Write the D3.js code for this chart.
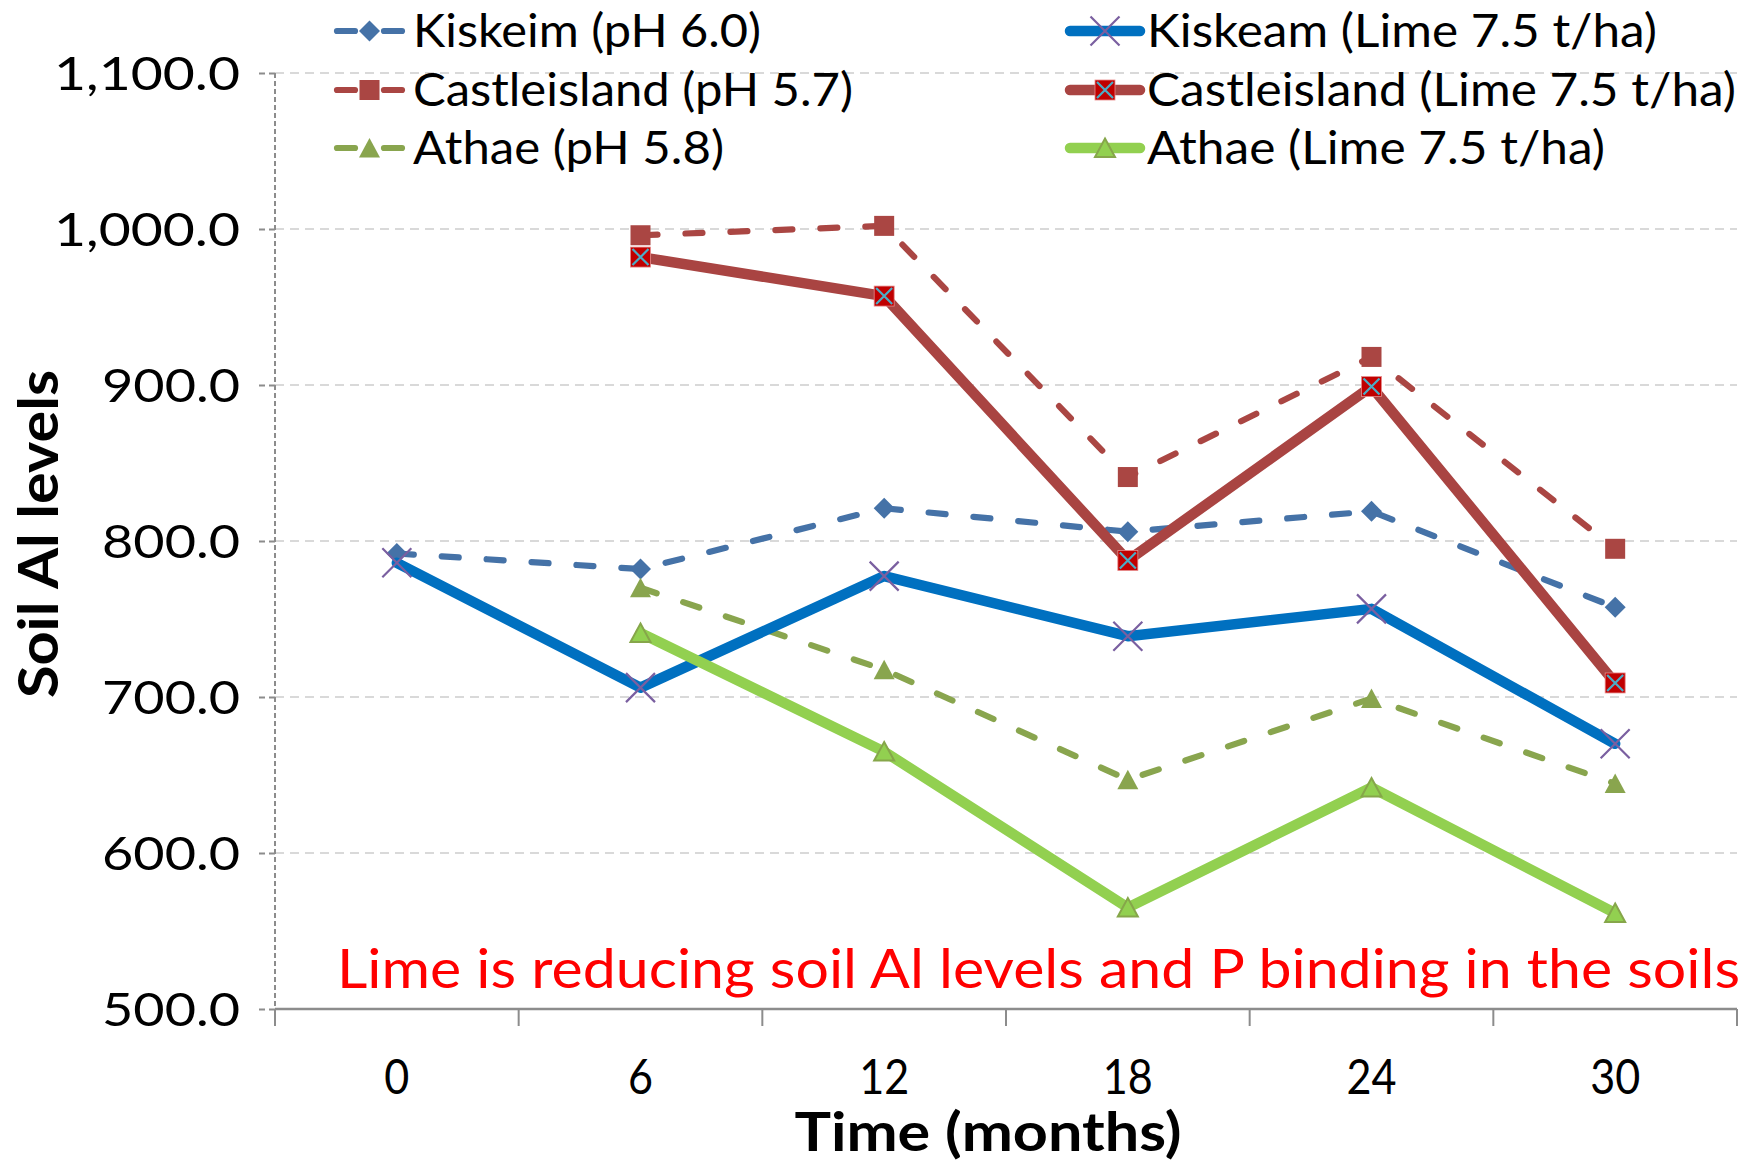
<!DOCTYPE html>
<html>
<head>
<meta charset="utf-8">
<script src="https://cdn.jsdelivr.net/npm/d3@7"></script>
<style>
  body { margin: 0; background: #fff; }
  svg { display: block; }
  text { font-family: Lato, "Open Sans", sans-serif; }
</style>
</head>
<body>
<svg id="chart" width="1760" height="1162"></svg>
<script>
// Sampling times (months) and soil Al readings per site
const months = ["0", "6", "12", "18", "24", "30"];
const yTickValues = [500, 600, 700, 800, 900, 1000, 1100];

const kiskeimPH     = [792, 782, 821, 806, 819, 757.5];
const castlePH      = [null, 996, 1002, 841, 918, 795];
const athaePH       = [null, 770, 717.5, 647, 699, 644.5];
const kiskeamLime   = [786, 706, 777.5, 739, 756.5, 670];
const castleLime    = [null, 982, 957, 787.5, 899, 709];
const athaeLime     = [null, 741, 665, 565, 642, 561.5];

const seriesNames = [
  "Kiskeim (pH 6.0)",
  "Castleisland (pH 5.7)",
  "Athae (pH 5.8)",
  "Kiskeam (Lime 7.5 t/ha)",
  "Castleisland (Lime 7.5 t/ha)",
  "Athae (Lime 7.5 t/ha)"
];

const series = [
  { name: seriesNames[0], values: kiskeimPH,   color: "#4572A7", width: 6.2, dash: "17,28", marker: "diamond",  fill: "#4572A7" },
  { name: seriesNames[1], values: castlePH,    color: "#AA4643", width: 6.2, dash: "17,28", marker: "square",   fill: "#AA4643" },
  { name: seriesNames[2], values: athaePH,     color: "#89A54E", width: 6.2, dash: "17,28", marker: "triangle", fill: "#89A54E" },
  { name: seriesNames[3], values: kiskeamLime, color: "#0070C0", width: 10.5, dash: null,   marker: "cross" },
  { name: seriesNames[4], values: castleLime,  color: "#A94442", width: 10.5, dash: null,   marker: "xsquare" },
  { name: seriesNames[5], values: athaeLime,   color: "#92D050", width: 10.5, dash: null,   marker: "otriangle" }
];

const svg = d3.select("#chart");
const plot = { left: 275, right: 1737, top: 73, bottom: 1009 };

const x = d3.scaleBand().domain(months).range([plot.left, plot.right]).padding(0);
const y = d3.scaleLinear().domain([500, 1100]).range([plot.bottom, plot.top]);
const cx = d => x(d) + x.bandwidth() / 2;

// Horizontal gridlines
svg.append("g")
  .selectAll("line")
  .data(yTickValues.filter(v => v > 500))
  .join("line")
  .attr("x1", plot.left).attr("x2", plot.right)
  .attr("y1", d => y(d)).attr("y2", d => y(d))
  .attr("stroke", "#D9D9D9").attr("stroke-width", 2)
  .attr("stroke-dasharray", "9,6");

// Y axis (dashed line and ticks)
const yAxis = svg.append("g")
  .attr("transform", `translate(${plot.left},0)`)
  .call(d3.axisLeft(y).tickValues(yTickValues).tickSize(16).tickPadding(19).tickFormat(d3.format(",.1f")));
yAxis.select(".domain").attr("stroke", "#8C8C8C").attr("stroke-width", 2).attr("stroke-dasharray", "5,3")
  .attr("d", `M0,${plot.top}V${plot.bottom}`);
yAxis.selectAll(".tick line").attr("stroke", "#8C8C8C").attr("stroke-width", 2).attr("stroke-dasharray", "6,4");
yAxis.selectAll(".tick text")
  .attr("fill", "#000").attr("font-size", 46).attr("dy", "0.36em")
  .attr("textLength", d => {
    const s = d3.format(",.1f")(d);
    const digits = s.replace(/[^0-9]/g, "").length;
    return digits * 30 + (s.length - digits) * 18;
  })
  .attr("lengthAdjust", "spacingAndGlyphs");

// X axis: solid line, ticks at category boundaries, labels centred in each band
const xAxis = svg.append("g")
  .attr("transform", `translate(0,${plot.bottom})`)
  .call(d3.axisBottom(x).tickSize(0).tickPadding(52));
xAxis.select(".domain").attr("stroke", "#8C8C8C").attr("stroke-width", 2.5)
  .attr("d", `M${plot.left},0H${plot.right}`);
xAxis.selectAll(".tick text")
  .attr("fill", "#000").attr("font-size", 49).attr("dy", "0.68em")
  .attr("textLength", d => d.length * 25)
  .attr("lengthAdjust", "spacingAndGlyphs");
const boundaries = months.map(m => x(m)).concat([plot.right]);
xAxis.append("g").selectAll("line")
  .data(boundaries)
  .join("line")
  .attr("x1", d => d).attr("x2", d => d)
  .attr("y1", 0).attr("y2", 17)
  .attr("stroke", "#8C8C8C").attr("stroke-width", 2);

// Marker drawing
function drawMarker(g, type, s) {
  if (type === "diamond") {
    g.append("path").attr("d", "M0,-10.5L10.5,0L0,10.5L-10.5,0Z").attr("fill", s.fill);
  } else if (type === "square") {
    g.append("rect").attr("x", -10).attr("y", -10).attr("width", 20).attr("height", 20).attr("fill", s.fill);
  } else if (type === "triangle") {
    g.append("path").attr("d", "M0,-10L10.5,9.5L-10.5,9.5Z").attr("fill", s.fill);
  } else if (type === "cross") {
    g.append("path").attr("d", "M-14.5,-14.5L14.5,14.5M-14.5,14.5L14.5,-14.5")
      .attr("stroke", "#7A5FA0").attr("stroke-width", 2.2).attr("fill", "none");
  } else if (type === "xsquare") {
    g.append("rect").attr("x", -10).attr("y", -10).attr("width", 20).attr("height", 20)
      .attr("fill", "#C00000").attr("stroke", "#E88A8A").attr("stroke-width", 0.8);
    g.append("path").attr("d", "M-8,-8L8,8M-8,8L8,-8")
      .attr("stroke", "#4BACC6").attr("stroke-width", 2.2).attr("fill", "none");
  } else if (type === "otriangle") {
    g.append("path").attr("d", "M0,-9.5L10,9L-10,9Z")
      .attr("fill", "#92D050").attr("stroke", "#86A64A").attr("stroke-width", 2);
  }
}

const line = d3.line()
  .defined(d => d.v != null)
  .x(d => cx(d.m))
  .y(d => y(d.v));

// Series lines with markers
series.forEach(s => {
  const pts = months.map((m, i) => ({ m, v: s.values[i] }));
  const g = svg.append("g");
  g.append("path")
    .attr("d", line(pts))
    .attr("fill", "none")
    .attr("stroke", s.color)
    .attr("stroke-width", s.width)
    .attr("stroke-linecap", "round")
    .attr("stroke-linejoin", "round")
    .attr("stroke-dasharray", s.dash);
  pts.filter(p => p.v != null).forEach(p => {
    const mg = g.append("g").attr("transform", `translate(${cx(p.m)},${y(p.v)})`);
    drawMarker(mg, s.marker, s);
  });
});

// Legend: two columns of three rows
const legendRows = [31, 90, 148];
const legendCols = [
  { x1: 337, x2: 402, tx: 413 },
  { x1: 1070, x2: 1140, tx: 1147 }
];
const legendWidths = [348, 440, 311, 510, 589, 458];
series.forEach((s, i) => {
  const col = legendCols[Math.floor(i / 3)];
  const ry = legendRows[i % 3];
  const g = svg.append("g");
  if (s.dash) {
    g.append("line").attr("x1", col.x1).attr("x2", col.x1 + 18).attr("y1", ry).attr("y2", ry)
      .attr("stroke", s.color).attr("stroke-width", s.width).attr("stroke-linecap", "round");
    g.append("line").attr("x1", col.x2 - 18).attr("x2", col.x2).attr("y1", ry).attr("y2", ry)
      .attr("stroke", s.color).attr("stroke-width", s.width).attr("stroke-linecap", "round");
  } else {
    g.append("line").attr("x1", col.x1).attr("x2", col.x2).attr("y1", ry).attr("y2", ry)
      .attr("stroke", s.color).attr("stroke-width", s.width).attr("stroke-linecap", "round");
  }
  const mg = g.append("g").attr("transform", `translate(${(col.x1 + col.x2) / 2},${ry})`);
  drawMarker(mg, s.marker, s);
  g.append("text")
    .attr("x", col.tx).attr("y", ry + 16)
    .attr("font-size", 46).attr("fill", "#000")
    .attr("textLength", legendWidths[i]).attr("lengthAdjust", "spacingAndGlyphs")
    .text(s.name);
});

// Axis titles
svg.append("text")
  .attr("x", 988).attr("y", 1151)
  .attr("text-anchor", "middle")
  .attr("font-size", 53).attr("font-weight", "bold").attr("fill", "#000")
  .attr("textLength", 387).attr("lengthAdjust", "spacingAndGlyphs")
  .text("Time (months)");

svg.append("text")
  .attr("transform", "translate(58,534) rotate(-90)")
  .attr("text-anchor", "middle")
  .attr("font-size", 56).attr("font-weight", "bold").attr("fill", "#000")
  .attr("textLength", 328).attr("lengthAdjust", "spacingAndGlyphs")
  .text("Soil Al levels");

// Annotation
svg.append("text")
  .attr("x", 337).attr("y", 988)
  .attr("font-size", 55).attr("fill", "#FF0000")
  .attr("textLength", 1403).attr("lengthAdjust", "spacingAndGlyphs")
  .text("Lime is reducing soil Al levels and P binding in the soils");
</script>
</body>
</html>
